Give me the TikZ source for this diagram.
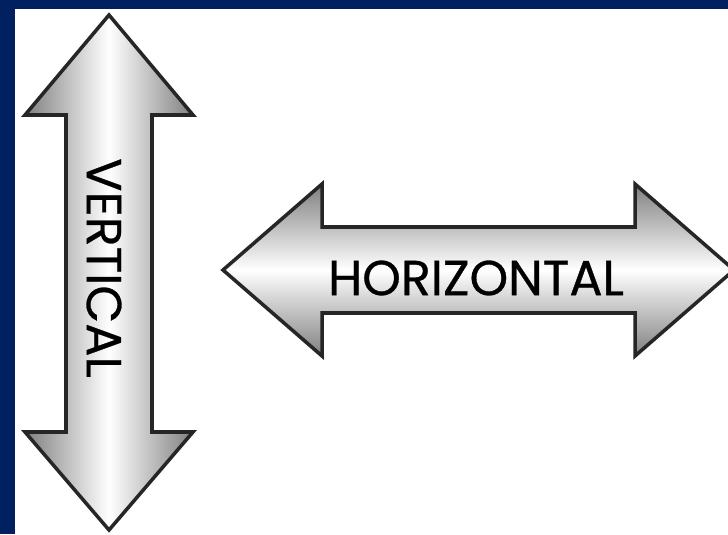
\documentclass[tikz,border=0pt]{standalone}
\usepackage{fontspec}
\setmainfont{Poppins}[FakeBold=0.6]
\usepackage{tikz}
\definecolor{frameblue}{RGB}{0,32,96}

\begin{document}
\begin{tikzpicture}[every node/.style={font=\fontsize{14}{16}\selectfont},
	arrowbody/.style={draw=black!85, line width=1pt, line join=miter}]
	\useasboundingbox (0,0) rectangle (7.28,5.34);
	\clip (0,0) rectangle (7.28,5.34);
	\fill[frameblue] (0,0) rectangle (7.28,5.34);
	\fill[white] (0.15,0) rectangle (7.28,5.25);
	
	% vertical arrow
	\shade[arrowbody, left color=black!50, right color=black!50, middle color=white]
		(1.09,5.19) -- (1.93,4.19) -- (1.52,4.19) -- (1.52,1.02) -- (1.93,1.02)
		-- (1.09,0.04) -- (0.25,1.02) -- (0.66,1.02) -- (0.66,4.19) -- (0.25,4.19) -- cycle;
	\node[rotate=-90] (vlabel) at (1.04,2.66) {VERTICAL};
	
	% horizontal arrow
	\shade[arrowbody, top color=black!50, bottom color=black!50, middle color=white]
		(2.23,2.64) -- (3.22,3.50) -- (3.22,3.07) -- (6.35,3.07) -- (6.35,3.50)
		-- (7.34,2.64) -- (6.35,1.78) -- (6.35,2.21) -- (3.22,2.21) -- (3.22,1.78) -- cycle;
	\node (hlabel) at (4.76,2.56) {HORIZONTAL};
	
\end{tikzpicture}
\end{document}
